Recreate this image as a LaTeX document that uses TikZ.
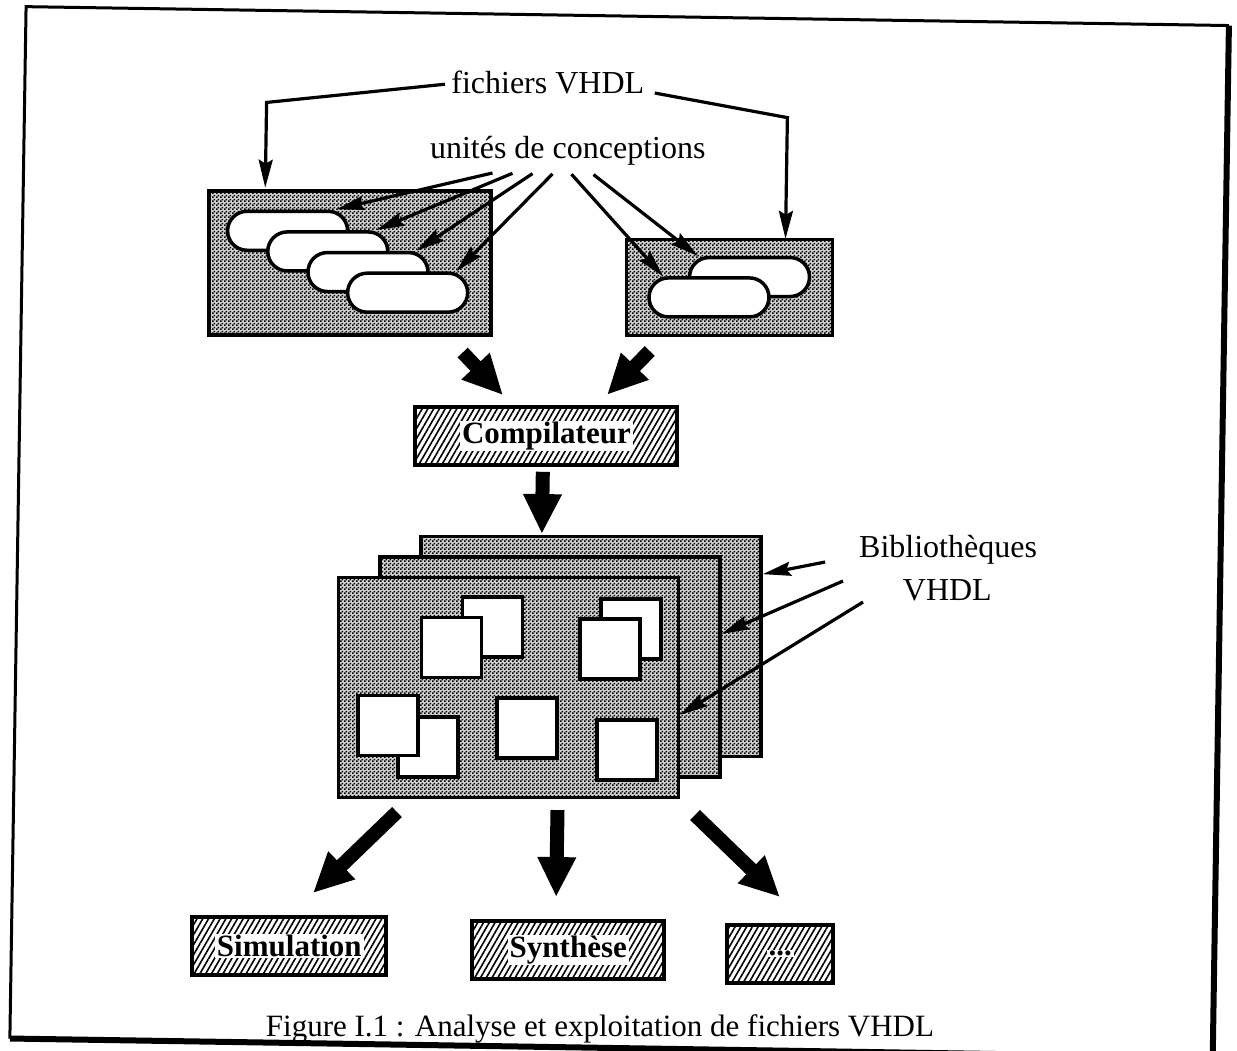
\documentclass[tikz,border=0pt]{standalone}
\usepackage{fontspec}
\setmainfont{Liberation Serif}
\usetikzlibrary{arrows.meta,patterns.meta,calc}

% fine dotted screen used for files and library sheets
\tikzdeclarepattern{
  name=stipple,
  type=uncolored,
  bounding box={(0pt,0pt) and (4pt,4pt)},
  tile size={(4pt,4pt)},
  code={
    \fill (0pt,0pt) rectangle (2pt,2pt);
    \fill (2pt,2pt) rectangle (4pt,4pt);
  }
}

\begin{document}
\begin{tikzpicture}[x=1pt,y=-1pt,
  txt/.style={font=\fontsize{32}{38}\selectfont,inner sep=0pt},
  captiontxt/.style={font=\fontsize{31}{37}\selectfont,inner sep=0pt},
  screened/.style={draw,line width=3.5pt,preaction={fill=black!18},
    pattern=stipple,pattern color=black,inner sep=0pt},
  filebox/.style={screened},
  unitpill/.style={draw,fill=white,line width=3.5pt,rounded corners=19.5pt,
    minimum width=120pt,minimum height=39pt,inner sep=0pt},
  sheet/.style={screened,minimum width=340pt,minimum height=220pt},
  module/.style={draw,fill=white,line width=3.5pt,minimum size=60pt,inner sep=0pt},
  toolbox/.style={draw,line width=4pt,preaction={fill=white},
    pattern={Lines[angle=60,distance=5pt,line width=1.6pt]},inner sep=0pt,
    minimum height=58pt},
  toollabel/.style={fill=white,inner xsep=2pt,inner ysep=1pt,
    font=\bfseries\fontsize{31}{37}\selectfont},
  pointer/.style={line width=3.2pt,-{Stealth[length=28pt,width=14pt,inset=4pt]}},
  flow/.style={line width=14pt,-{Triangle[length=40pt,width=36pt]}},
]
\useasboundingbox (0,0) rectangle (1237,1050);

\begin{scope}[rotate around={-0.9:(618,525)}]

% page frame
\draw[line width=3pt] (18,1048) -- (18,16) -- (1221,16);
\draw[line width=6pt] (1221,16) -- (1221,1048) -- (18,1048);

% labels at the top
\node[txt,anchor=base] (fv) at (541,95) {fichiers VHDL};
\node[txt,anchor=base] (uc) at (562,159) {unités de conceptions};

% VHDL files with their design units
\node[filebox,minimum width=282pt,minimum height=144pt] (lfile) at (346,267) {};
\node[filebox,minimum width=206pt,minimum height=96pt] (rfile) at (726,286) {};

\node[unitpill] (u1) at (283,236) {};
\node[unitpill] (u2) at (323.5,256) {};
\node[unitpill] (u3) at (364,276) {};
\node[unitpill] (u4) at (404,296) {};
\node[unitpill] (u5) at (745.6,275) {};
\node[unitpill] (u6) at (705.4,296) {};

% file arrows
\coordinate (fvl) at (438,87);
\coordinate (fvlc) at (260,108);
\coordinate (fvr) at (648,92.5);
\coordinate (fvrc) at (781,115);
\draw[pointer] (fvl) -- (fvlc) -- (fvlc |- lfile.north);
\draw[pointer] (fvr) -- (fvrc) -- (fvrc |- rfile.north);

% design unit arrows
\coordinate (s1) at (487,175);
\coordinate (s2) at (507,175);
\coordinate (s3) at (527,175);
\coordinate (s4) at (547,175);
\coordinate (s5) at (566,175);
\coordinate (s6) at (588,175);
\draw[pointer] (s1) -- ($(u1.north east)+(-13,0)$);
\draw[pointer] (s2) -- ($(u2.north east)+(-13,0)$);
\draw[pointer] (s3) -- ($(u3.north east)+(-13,0)$);
\draw[pointer] (s4) -- ($(u4.north east)+(-13,0)$);
\draw[pointer] (s5) -- ($(u6.north west)+(16,0)$);
\draw[pointer] (s6) -- ($(u5.north west)+(10,0)$);

% compiler
\node[toolbox,minimum width=262pt] (cmp) at (545,437) {};
\node[toollabel] (cmpt) at (cmp) {Compilateur};

\coordinate (ta) at (460,355);
\coordinate (tb) at (501,397);
\coordinate (tc) at (647,350.5);
\coordinate (td) at (605,395);
\draw[flow] (ta) -- (tb);
\draw[flow] (tc) -- (td);

% library sheets
\node[sheet] (lib3) at (593,647) {};
\node[sheet] (lib2) at (552,668) {};
\node[sheet] (lib1) at (511,689) {};

\coordinate (cd) at (542,473);
\draw[flow] (cd) -- (cd |- lib3.north);

% compiled units in the front library
\node[module] (m1) at (494,629) {};
\node[module] (m2) at (453.5,650) {};
\node[module] (m3) at (632.5,629) {};
\node[module] (m4) at (612,649) {};
\node[module] (m5) at (431.5,750) {};
\node[module] (m6) at (391,729) {};
\node[module] (m7) at (530,729.5) {};
\node[module] (m8) at (630.5,750) {};

% library label and arrows
\node[txt,anchor=base] (bib1) at (948.5,552) {Bibliothèques};
\node[txt,anchor=base] (bib2) at (948.5,595) {VHDL};
\coordinate (la) at (825.6,558.8);
\coordinate (lb) at (843.9,577.5);
\coordinate (lc) at (864.2,598.2);
\draw[pointer] (la) -- ($(lib3.north east)!0.176!(lib3.south east)$);
\draw[pointer] (lb) -- ($(lib2.north east)!0.352!(lib2.south east)$);
\draw[pointer] (lc) -- ($(lib1.north east)!0.623!(lib1.south east)$);

% tools using the libraries
\node[toolbox,minimum width=194pt] (sim) at (296,951) {};
\node[toollabel] (simt) at (sim) {Simulation};
\node[toolbox,minimum width=192pt] (syn) at (575,951) {};
\node[toollabel] (synt) at (syn) {Synthèse};
\node[toolbox,minimum width=106pt] (etc) at (787,951) {};
\node[toollabel] (etct) at (etc) {...};

\coordinate (b1) at (401.5,815.5);
\coordinate (b1e) at (318.8,897.8);
\coordinate (b2) at (562,811);
\coordinate (b2e) at (562,898);
\coordinate (b3) at (699.6,813.8);
\coordinate (b3e) at (785.8,894.5);
\draw[flow] (b1) -- (b1e);
\draw[flow] (b2) -- (b2e);
\draw[flow] (b3) -- (b3e);

% caption
\node[captiontxt,anchor=base] (cap) at (608,1037) {Figure I.1 : Analyse et exploitation de fichiers VHDL};

\end{scope}
\end{tikzpicture}
\end{document}
